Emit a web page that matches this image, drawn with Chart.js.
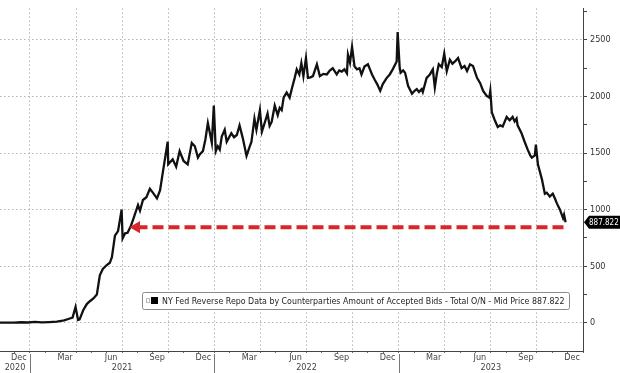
<!DOCTYPE html>
<html>
<head>
<meta charset="utf-8">
<script src="https://cdn.jsdelivr.net/npm/chart.js@4.4.0/dist/chart.umd.min.js"></script>
<style>
body{margin:0;background:#fff;}
#wrap{width:620px;height:373px;}
</style>
</head>
<body>
<div id="wrap"><canvas id="rrp"></canvas></div>
<script>
/* data */

const dates = [
'2020-11-02','2020-11-16','2020-11-30','2020-12-14','2020-12-28','2021-01-11','2021-01-25','2021-02-08','2021-02-22','2021-03-08',
'2021-03-18','2021-03-25','2021-03-31','2021-04-05','2021-04-08','2021-04-15','2021-04-22','2021-04-28','2021-05-05','2021-05-12',
'2021-05-18','2021-05-24','2021-06-01','2021-06-07','2021-06-11','2021-06-17','2021-06-23','2021-06-30','2021-07-02','2021-07-07',
'2021-07-12','2021-07-19','2021-07-23','2021-08-02','2021-08-06','2021-08-12','2021-08-19','2021-08-26','2021-09-01','2021-09-09',
'2021-09-15','2021-09-21','2021-09-30','2021-10-01','2021-10-10','2021-10-17','2021-10-24','2021-11-01','2021-11-09','2021-11-17',
'2021-11-23','2021-11-29','2021-12-03','2021-12-09','2021-12-14','2021-12-19','2021-12-23','2021-12-27','2021-12-31','2022-01-04',
'2022-01-08','2022-01-12','2022-01-16','2022-01-22','2022-01-26','2022-02-04','2022-02-09','2022-02-14','2022-02-19','2022-02-25',
'2022-03-04','2022-03-09','2022-03-14','2022-03-20','2022-03-24','2022-03-31','2022-04-04','2022-04-10','2022-04-15','2022-04-19',
'2022-04-23','2022-04-29','2022-05-05','2022-05-09','2022-05-13','2022-05-17','2022-05-23','2022-05-29','2022-06-03','2022-06-08',
'2022-06-12','2022-06-17','2022-06-21','2022-06-25','2022-06-30','2022-07-04','2022-07-09','2022-07-14','2022-07-22','2022-07-28',
'2022-08-04','2022-08-11','2022-08-17','2022-08-23','2022-08-31','2022-09-05','2022-09-10','2022-09-15','2022-09-20','2022-09-22',
'2022-09-26','2022-09-30','2022-10-05','2022-10-10','2022-10-15','2022-10-19','2022-10-25','2022-11-01','2022-11-05','2022-11-09',
'2022-11-14','2022-11-19','2022-11-25','2022-11-30','2022-12-08','2022-12-14','2022-12-20','2022-12-28','2022-12-30','2023-01-03',
'2023-01-05','2023-01-10','2023-01-14','2023-01-20','2023-01-28','2023-02-02','2023-02-06','2023-02-10','2023-02-15','2023-02-17',
'2023-02-24','2023-03-02','2023-03-08','2023-03-12','2023-03-16','2023-03-20','2023-03-26','2023-03-31','2023-04-05','2023-04-11',
'2023-04-16','2023-04-21','2023-04-27','2023-05-04','2023-05-10','2023-05-15','2023-05-21','2023-05-27','2023-06-04','2023-06-10',
'2023-06-16','2023-06-23','2023-06-28','2023-06-30','2023-07-03','2023-07-09','2023-07-15','2023-07-20','2023-07-25','2023-08-02',
'2023-08-08','2023-08-14','2023-08-18','2023-08-22','2023-08-24','2023-09-01','2023-09-07','2023-09-13','2023-09-18','2023-09-21',
'2023-09-27','2023-09-29','2023-10-03','2023-10-11','2023-10-17','2023-10-21','2023-10-27','2023-11-02','2023-11-06','2023-11-10',
'2023-11-16','2023-11-22','2023-11-24','2023-11-27'
];

const rrpValues = [
0,1,0,4,2,8,3,6,10,20,
35,45,140,25,30,110,165,190,215,250,
420,475,510,530,580,770,810,1000,745,790,
795,860,910,1040,990,1085,1110,1185,1150,1100,
1170,1345,1600,1400,1445,1380,1517,1430,1400,1590,
1560,1460,1490,1517,1620,1765,1680,1590,1920,1517,
1560,1530,1645,1705,1600,1675,1640,1660,1745,1630,
1475,1540,1600,1805,1705,1880,1690,1775,1850,1740,
1775,1920,1835,1900,1880,1992,2035,1990,2080,2165,
2240,2195,2295,2180,2340,2165,2170,2180,2285,2180,
2200,2195,2230,2250,2195,2230,2220,2240,2205,2370,
2300,2440,2265,2240,2250,2195,2265,2285,2240,2195,
2150,2110,2050,2110,2165,2195,2240,2310,2570,2260,
2210,2230,2210,2095,2025,2050,2065,2040,2065,2040,
2165,2195,2240,2080,2200,2285,2260,2380,2225,2325,
2290,2310,2340,2250,2270,2225,2285,2270,2165,2120,
2050,2005,1990,2050,1860,1790,1730,1745,1735,1820,
1790,1820,1780,1805,1745,1675,1600,1530,1480,1460,
1480,1575,1400,1270,1140,1150,1115,1140,1100,1055,
1000,925,955,887.822
];

// one label per quarter line (1 Jan 2021, 1 Apr 2021 ... 1 Jan 2024), naming the month that ends there
const monthTicks = ['Dec','Mar','Jun','Sep','Dec','Mar','Jun','Sep','Dec','Mar','Jun','Sep','Dec'];
const yearTicks = ['2020','2021','2022','2023'];
const yTicks = [0,500,1000,1500,2000,2500];

const arrowDates = ['2021-07-30','2023-11-26'];
const arrowLevel = 845;

const seriesName = 'NY Fed Reverse Repo Data by Counterparties Amount of Accepted Bids - Total O/N - Mid Price';

/* helpers */

// use a narrow face if one is installed
function pickFamily(){
let c = document.createElement('canvas').getContext('2d');
let probe = 'Reverse Repo Data 887';
c.font = '20px monospace';
let base = c.measureText(probe).width;
let list = ['"Liberation Sans Narrow"', '"DejaVu Sans Condensed"', '"Arial Narrow"'];
for (let f of list){
c.font = '20px ' + f + ', monospace';
if (c.measureText(probe).width !== base) return f + ', "Liberation Sans", sans-serif';
}
return '"Liberation Sans", Arial, sans-serif';
}

const FONT = pickFamily();
const X_MIN = -0.95;
const X_MAX = 37;

// months since 1 Dec 2020
function monthIndex(s){
let [y, m, d] = s.split('-').map(Number);
let dim = new Date(y, m, 0).getDate();
return (y - 2020) * 12 + (m - 12) + (d - 1) / dim;
}

function yearStart(yr){
return (yr - 2020) * 12 - 11;
}

function isQuarterLine(v){
return v >= 1 && (v - 1) % 3 === 0;
}

const points = dates.map((d, i) => ({x: monthIndex(d), y: rrpValues[i]}));
const arrowPoints = arrowDates.map(d => ({x: monthIndex(d), y: arrowLevel}));

const yearCenters = yearTicks.map(t => {
let a = Math.max(yearStart(+t), X_MIN);
let b = Math.min(yearStart(+t + 1), X_MAX);
return (a + b) / 2;
});

/* legend box, year separators, last price tag */

const extras = {
id: 'extras',
afterDraw(chart){
const ctx = chart.ctx;
const xs = chart.scales.x;
const ys = chart.scales.y;
ctx.save();

ctx.strokeStyle = '#777';
ctx.lineWidth = 1;
for (let yr = 2021; yr <= 2023; yr++){
let px = Math.round(xs.getPixelForValue(yearStart(yr))) + 0.5;
ctx.beginPath();
ctx.moveTo(px, xs.top + 3);
ctx.lineTo(px, chart.height);
ctx.stroke();
}

let last = rrpValues[rrpValues.length - 1];
let text = seriesName + ' ' + last.toFixed(3);

// legend
ctx.fillStyle = '#fff';
ctx.strokeStyle = '#8a8a8a';
ctx.beginPath();
ctx.roundRect(142.5, 292.5, 427, 17, 2);
ctx.fill();
ctx.stroke();
ctx.strokeStyle = '#bbb';
ctx.strokeRect(146.5, 298.5, 3, 4);
ctx.fillStyle = '#000';
ctx.fillRect(151, 297, 7, 7);

ctx.font = '10px ' + FONT;
let size = Math.min(10, 10 * 403 / ctx.measureText(text).width);
ctx.font = size.toFixed(2) + 'px ' + FONT;
ctx.fillStyle = '#222';
ctx.textBaseline = 'middle';
ctx.textAlign = 'left';
ctx.fillText(text, 162, 301.5);

// price tag, pointing at the axis
let py = ys.getPixelForValue(last);
let tx = xs.right + 1;
ctx.fillStyle = '#000';
ctx.beginPath();
ctx.moveTo(tx, py);
ctx.lineTo(tx + 5, py - 6.5);
ctx.lineTo(chart.width, py - 6.5);
ctx.lineTo(chart.width, py + 6.5);
ctx.lineTo(tx + 5, py + 6.5);
ctx.closePath();
ctx.fill();
ctx.fillStyle = '#fff';
ctx.font = '8px ' + FONT;
ctx.fillText(last.toFixed(3), tx + 5, py + 0.5);

ctx.restore();
}
};

/* chart */

new Chart(document.getElementById('rrp'), {
type: 'line',
data: {
datasets: [{
label: 'arrow',
data: arrowPoints,
borderColor: '#d8262c',
backgroundColor: '#d8262c',
borderWidth: 4,
borderDash: [11, 5],
pointStyle: 'triangle',
rotation: -90,
pointRadius: ctx => ctx.dataIndex === 0 ? 7 : 0,
pointBorderWidth: 0
}, {
label: seriesName,
data: points,
borderColor: '#111',
borderWidth: 2.3,
pointRadius: 0,
tension: 0
}]
},
options: {
responsive: true,
maintainAspectRatio: false,
animation: false,
layout: {padding: 0, autoPadding: false},
plugins: {legend: {display: false}, tooltip: {enabled: false}},
scales: {
x: {
type: 'linear',
position: 'bottom',
weight: 0,
min: X_MIN,
max: X_MAX,
afterBuildTicks: s => {
let t = [];
for (let m = 0; m <= X_MAX; m++) t.push({value: m});
s.ticks = t;
},
afterFit: s => { s.height = 11; },
ticks: {
autoSkip: false,
maxRotation: 0,
padding: -1,
labelOffset: -11,
color: '#444',
font: {family: FONT, size: 9},
callback: v => isQuarterLine(v) ? monthTicks[(v - 1) / 3] : ''
},
grid: {
color: c => c.tick && isQuarterLine(c.tick.value) ? '#b5b5b5' : 'rgba(0,0,0,0)',
tickColor: '#666',
tickLength: 2
},
border: {display: true, color: '#444', width: 1, dash: [1.5, 2.5]}
},
years: {
type: 'linear',
position: 'bottom',
weight: 1,
min: X_MIN,
max: X_MAX,
afterBuildTicks: s => { s.ticks = yearCenters.map(v => ({value: v})); },
afterFit: s => { s.height = 11; },
ticks: {
autoSkip: false,
maxRotation: 0,
padding: 0,
color: '#444',
font: {family: FONT, size: 9},
callback: (v, i) => yearTicks[i]
},
grid: {display: false, drawTicks: false},
border: {display: false}
},
y: {
position: 'right',
min: -250,
max: 2779,
afterBuildTicks: s => {
let t = [];
yTicks.forEach(v => { t.push({value: v}); t.push({value: v + 250}); });
s.ticks = t;
},
afterFit: s => { s.width = 37; },
ticks: {
padding: 3,
color: '#333',
font: {family: FONT, size: 9},
callback: v => yTicks.includes(v) ? String(v) : ''
},
grid: {
color: c => c.tick && yTicks.includes(c.tick.value) ? '#b5b5b5' : 'rgba(0,0,0,0)',
tickColor: '#444',
tickLength: 4
},
border: {display: true, color: '#444', width: 1, dash: [1.5, 2.5]}
}
}
},
plugins: [extras]
});
</script>
</body>
</html>
